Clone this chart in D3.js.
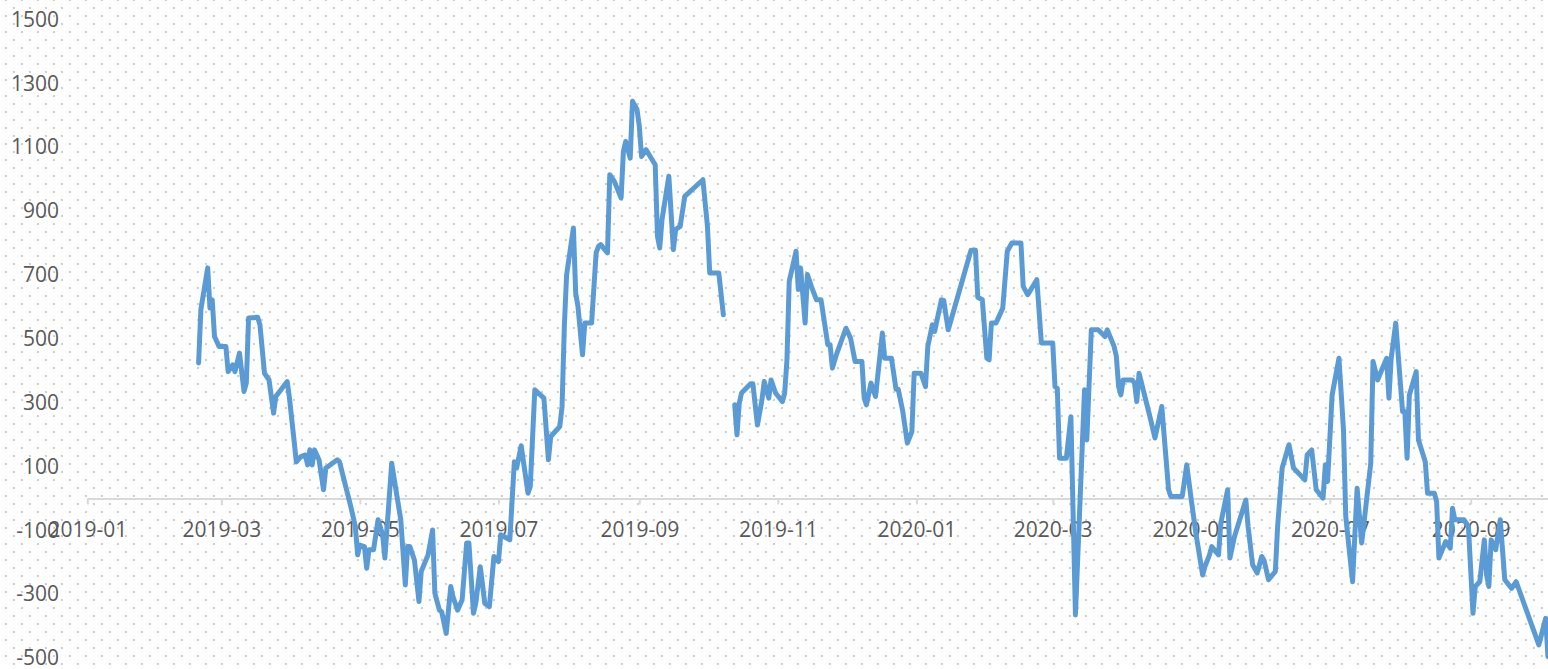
<!doctype html>
<html lang="en">
<head>
<meta charset="utf-8">
<script src="https://d3js.org/d3.v7.min.js"></script>
<style>
  body { margin: 0; background: #fff; }
  #chart text { font-family: "Open Sans", sans-serif; font-size: 21px; fill: #595959; }
</style>
</head>
<body>
<div id="chart"></div>
<script>
// trading dates (a null value marks the October gap)
var dates = [
  "2019-02-19","2019-02-20","2019-02-23","2019-02-24","2019-02-25","2019-02-26","2019-02-28",
  "2019-03-03","2019-03-04","2019-03-06","2019-03-07","2019-03-09","2019-03-11","2019-03-12",
  "2019-03-13","2019-03-17","2019-03-18","2019-03-20","2019-03-22","2019-03-24","2019-03-25",
  "2019-03-30","2019-03-31","2019-04-02","2019-04-03","2019-04-05","2019-04-07","2019-04-08",
  "2019-04-09","2019-04-10","2019-04-11","2019-04-13","2019-04-15","2019-04-16","2019-04-17",
  "2019-04-21","2019-04-22","2019-04-27","2019-04-29","2019-04-30","2019-05-01","2019-05-03",
  "2019-05-04","2019-05-05","2019-05-07","2019-05-09","2019-05-11","2019-05-12","2019-05-15",
  "2019-05-17","2019-05-19","2019-05-21","2019-05-22","2019-05-23","2019-05-25","2019-05-27",
  "2019-05-28","2019-05-31","2019-06-02","2019-06-03","2019-06-05","2019-06-06","2019-06-08",
  "2019-06-10","2019-06-11","2019-06-13","2019-06-15","2019-06-17","2019-06-18","2019-06-20",
  "2019-06-21","2019-06-23","2019-06-25","2019-06-27","2019-06-29","2019-07-01","2019-07-02",
  "2019-07-06","2019-07-08","2019-07-09","2019-07-11","2019-07-14","2019-07-15","2019-07-17",
  "2019-07-21","2019-07-23","2019-07-24","2019-07-28","2019-07-29","2019-07-30","2019-07-31",
  "2019-08-03","2019-08-04","2019-08-05","2019-08-07","2019-08-08","2019-08-11","2019-08-13",
  "2019-08-14","2019-08-15","2019-08-18","2019-08-19","2019-08-21","2019-08-24","2019-08-25",
  "2019-08-26","2019-08-28","2019-08-29","2019-08-31","2019-09-01","2019-09-02","2019-09-04",
  "2019-09-08","2019-09-09","2019-09-10","2019-09-11","2019-09-14","2019-09-16","2019-09-17",
  "2019-09-19","2019-09-21","2019-09-29","2019-10-01","2019-10-02","2019-10-06","2019-10-08",
  "2019-10-10",
  "2019-10-13","2019-10-14","2019-10-15","2019-10-16","2019-10-20","2019-10-21","2019-10-23",
  "2019-10-25","2019-10-26","2019-10-28","2019-10-29","2019-10-31","2019-11-03","2019-11-04",
  "2019-11-05","2019-11-06","2019-11-09","2019-11-10","2019-11-11","2019-11-13","2019-11-14",
  "2019-11-16","2019-11-18","2019-11-20","2019-11-23","2019-11-24","2019-11-25","2019-11-27",
  "2019-12-01","2019-12-03","2019-12-05","2019-12-08","2019-12-09","2019-12-10","2019-12-12",
  "2019-12-14","2019-12-17","2019-12-18","2019-12-21","2019-12-23","2019-12-24","2019-12-26",
  "2019-12-28","2019-12-30","2019-12-31","2020-01-03","2020-01-05","2020-01-06","2020-01-08",
  "2020-01-09","2020-01-12","2020-01-13","2020-01-15","2020-01-25","2020-01-27","2020-01-28",
  "2020-01-30","2020-02-01","2020-02-02","2020-02-03","2020-02-05","2020-02-08","2020-02-10",
  "2020-02-12","2020-02-16","2020-02-17","2020-02-19","2020-02-23","2020-02-25","2020-03-01",
  "2020-03-02","2020-03-03","2020-03-04","2020-03-07","2020-03-09","2020-03-11","2020-03-15",
  "2020-03-16","2020-03-18","2020-03-21","2020-03-24","2020-03-25","2020-03-28","2020-03-29",
  "2020-03-30","2020-03-31","2020-04-01","2020-04-05","2020-04-06","2020-04-07","2020-04-08",
  "2020-04-13","2020-04-15","2020-04-18","2020-04-21","2020-04-22","2020-04-27","2020-04-29",
  "2020-05-01","2020-05-03","2020-05-06","2020-05-07","2020-05-09","2020-05-10","2020-05-13",
  "2020-05-14","2020-05-17","2020-05-18","2020-05-20","2020-05-25","2020-05-26","2020-05-28",
  "2020-05-30","2020-06-01","2020-06-02","2020-06-04","2020-06-07","2020-06-08","2020-06-10",
  "2020-06-13","2020-06-15","2020-06-20","2020-06-21","2020-06-23","2020-06-25","2020-06-28",
  "2020-06-29","2020-06-30","2020-07-02","2020-07-05","2020-07-07","2020-07-08","2020-07-11",
  "2020-07-13","2020-07-15","2020-07-19","2020-07-20","2020-07-22","2020-07-26","2020-07-27",
  "2020-07-28","2020-07-30","2020-08-02","2020-08-03","2020-08-04","2020-08-05","2020-08-08",
  "2020-08-09","2020-08-12","2020-08-13","2020-08-16","2020-08-17","2020-08-18","2020-08-21",
  "2020-08-23","2020-08-24","2020-08-25","2020-08-29","2020-08-31","2020-09-02","2020-09-03",
  "2020-09-05","2020-09-07","2020-09-08","2020-09-09","2020-09-10","2020-09-12","2020-09-14",
  "2020-09-16","2020-09-19","2020-09-21","2020-10-01","2020-10-04","2020-10-05"
];

var values = [
  424, 591, 722, 596, 622, 507, 476,
  476, 397, 418, 397, 455, 335, 361,
  565, 567, 544, 392, 371, 267, 319,
  366, 314, 183, 114, 131, 136, 105,
  152, 105, 152, 121, 27, 95, 100,
  121, 115, -26, -88, -177, -146, -151,
  -219, -161, -161, -67, -114, -187, 110,
  21, -67, -271, -151, -151, -193, -323,
  -229, -177, -99, -297, -350, -355, -423,
  -276, -308, -350, -318, -140, -140, -360,
  -329, -214, -329, -339, -182, -198, -114,
  -130, 115, 95, 165, 16, 37, 340,
  314, 121, 194, 225, 288, 539, 700,
  847, 643, 601, 450, 549, 549, 769,
  789, 795, 769, 1014, 993, 941, 1087,
  1118, 1066, 1244, 1218, 1166, 1071, 1092,
  1045, 821, 784, 873, 1009, 779, 842,
  852, 946, 998, 852, 706, 706, 575,
  null,
  293, 199, 298, 330, 359, 359, 230,
  309, 366, 314, 371, 330, 303, 330,
  434, 680, 774, 654, 722, 549, 701,
  659, 622, 622, 481, 481, 408, 455,
  533, 502, 429, 429, 314, 293, 361,
  319, 518, 439, 439, 342, 342, 272,
  173, 209, 392, 392, 350, 476, 544,
  523, 622, 620, 528, 777, 777, 630,
  622, 439, 434, 549, 549, 596, 774,
  800, 800, 664, 638, 685, 487, 487,
  350, 345, 126, 126, 256, -365, 340,
  183, 528, 528, 507, 528, 476, 445,
  350, 324, 371, 371, 361, 303, 392,
  250, 189, 288, 27, 6, 6, 105,
  -5, -109, -240, -214, -177, -151, -177,
  -78, 27, -187, -120, -5, -88, -208,
  -234, -182, -193, -255, -229, -88, 95,
  168, 95, 58, 136, 152, 27, 1,
  105, 53, 324, 439, 215, -57, -261,
  32, -140, 110, 429, 371, 439, 314,
  439, 549, 272, 272, 126, 324, 397,
  183, 115, 16, 16, -10, -187, -135,
  -156, -31, -67, -67, -88, -360, -276,
  -261, -130, -240, -276, -130, -161, -67,
  -255, -282, -261, -459, -376, -496
];

var yTicks = [-500, -300, -100, 100, 300, 500, 700, 900, 1100, 1300, 1500];

var width = 1548, height = 669;
var parse = d3.utcParse("%Y-%m-%d");

var data = dates.map(function(d, i) { return {date: parse(d), value: values[i]}; });

var svg = d3.select("#chart")
  .append("svg")
    .attr("width", width)
    .attr("height", height);

// dotted background pattern
var pat = svg.append("defs").append("pattern")
    .attr("id", "dots")
    .attr("patternUnits", "userSpaceOnUse")
    .attr("width", 16)
    .attr("height", 16);
pat.append("rect").attr("x", 5).attr("y", 15).attr("width", 2).attr("height", 1).attr("fill", "#cfcfcf");
pat.append("rect").attr("x", 5).attr("y", 0).attr("width", 2).attr("height", 1).attr("fill", "#cfcfcf");
pat.append("rect").attr("x", 13).attr("y", 7).attr("width", 2).attr("height", 2).attr("fill", "#cfcfcf");

svg.append("rect")
    .attr("width", width)
    .attr("height", height)
    .attr("fill", "url(#dots)");

// scales
var x = d3.scaleUtc()
  .domain([parse("2019-01-01"), parse("2020-10-06")])
  .range([87.3, 87.3 + 644 * 2.2716]);

var y = d3.scaleLinear()
  .domain([-500, 1500])
  .range([658, 19.5]);

// x axis on the zero line
var xAxis = svg.append("g")
  .attr("transform", "translate(0," + y(0) + ")")
  .call(d3.axisBottom(x)
    .tickValues(d3.utcMonth.every(2).range(parse("2019-01-01"), parse("2020-10-01")))
    .tickFormat(d3.utcFormat("%Y-%m"))
    .tickSize(6)
    .tickSizeOuter(0)
    .tickPadding(18));
xAxis.select(".domain").attr("stroke", "#d9d9d9").attr("stroke-width", 2);
xAxis.selectAll(".tick line").attr("stroke", "#d9d9d9").attr("stroke-width", 2);

// y labels only
var yAxis = svg.append("g")
  .attr("transform", "translate(59,0)")
  .call(d3.axisLeft(y)
    .tickValues(yTicks)
    .tickFormat(function(d) { return String(d); })
    .tickSize(0)
    .tickPadding(0));
yAxis.select(".domain").remove();

// line
var line = d3.line()
  .defined(function(d) { return d.value !== null; })
  .x(function(d) { return x(d.date); })
  .y(function(d) { return y(d.value); });

svg.append("path")
  .datum(data)
  .attr("d", line)
  .attr("fill", "none")
  .attr("stroke", "#5b9bd5")
  .attr("stroke-width", 5)
  .attr("stroke-linejoin", "round")
  .attr("stroke-linecap", "round");

svg.selectAll("text").attr("font-family", null).attr("font-size", null);
</script>
</body>
</html>
